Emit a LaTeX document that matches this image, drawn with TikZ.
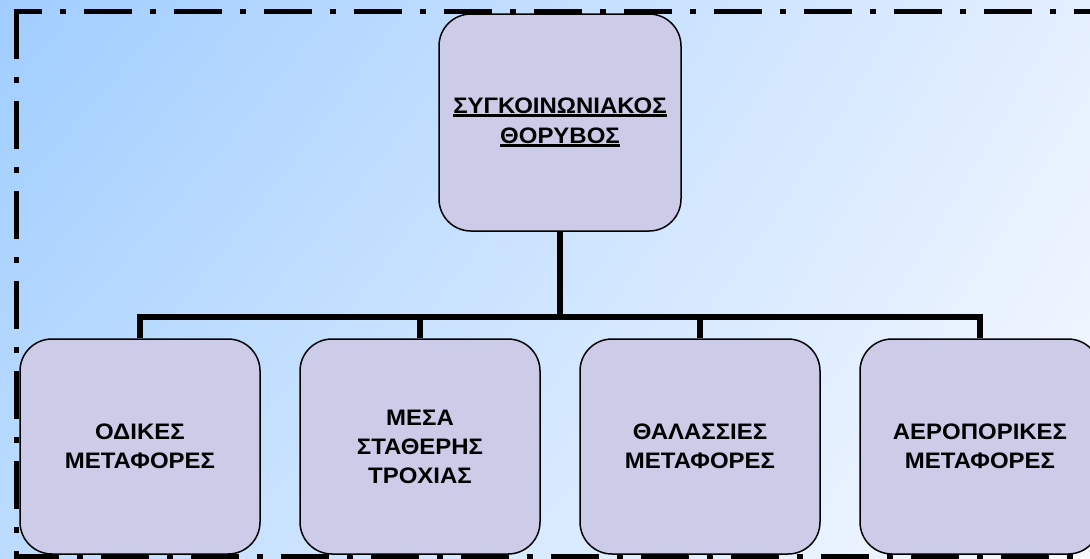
\documentclass[tikz,border=0pt]{standalone}
\usepackage{fontspec}
\setmainfont{Liberation Sans}[FakeStretch=1.07]
\newcommand\myuline[1]{\setbox0\hbox{#1}\rlap{\raisebox{-3.4pt}{\rule{\wd0}{2.6pt}}}\box0}
\usetikzlibrary{shadings}
\definecolor{bgUL}{HTML}{A0CDFF}
\definecolor{bgUR}{HTML}{E4EFFF}
\definecolor{bgLL}{HTML}{BCDCFF}
\definecolor{bgLR}{HTML}{F7F9FF}
\definecolor{boxfill}{HTML}{CCCCE8}
\tikzset{
  boxnode/.style={draw=black, line width=1.5pt, fill=boxfill, rounded corners=32pt,
    minimum width=240pt, minimum height=215pt, inner sep=0pt, align=center,
    font=\bfseries\fontsize{22.4}{29}\selectfont},
  conn/.style={line width=5.5pt, line join=miter},
  frame/.style={line width=5pt, dash pattern=on 48pt off 18pt on 6pt off 18pt}
}
\begin{document}
\begin{tikzpicture}[x=1pt,y=-1pt]
\useasboundingbox (0,0) rectangle (1090,558);
\clip (0,0) rectangle (1090,558);
\shade[upper left=bgUL, upper right=bgUR, lower left=bgLL, lower right=bgLR]
  (0,0) rectangle (1090,558);
% frame
\coordinate (fTL) at (16,11);
\coordinate (fBL) at (16,556);
\coordinate (fBR) at (1100,556);
\coordinate (fTR) at (1100,11);
\draw[frame] (fTL) -- (fBL) -- (fBR);
\draw[frame, dash phase=20pt] (13.5,11) -- (fTR);
% nodes
\node[boxnode, minimum width=242pt, minimum height=217pt] (top) at (560,122.5)
  {\myuline{ΣΥΓΚΟΙΝΩΝΙΑΚΟΣ}\\[1pt]\myuline{ΘΟΡΥΒΟΣ}};
\coordinate (bar) at (560,317);
\node[boxnode] (c1) at (140,446.5) {ΟΔΙΚΕΣ\\ΜΕΤΑΦΟΡΕΣ};
\node[boxnode] (c2) at (420,446.5) {ΜΕΣΑ\\ΣΤΑΘΕΡΗΣ\\ΤΡΟΧΙΑΣ};
\node[boxnode] (c3) at (700,446.5) {ΘΑΛΑΣΣΙΕΣ\\ΜΕΤΑΦΟΡΕΣ};
\node[boxnode] (c4) at (980,446.5) {ΑΕΡΟΠΟΡΙΚΕΣ\\ΜΕΤΑΦΟΡΕΣ};
% connectors
\draw[conn] (top.south) -- (top.south |- bar);
\draw[conn] (c1.north) -- (c1.north |- bar) -- (c4.north |- bar) -- (c4.north);
\draw[conn] (c2.north) -- (c2.north |- bar);
\draw[conn] (c3.north) -- (c3.north |- bar);
\end{tikzpicture}
\end{document}
